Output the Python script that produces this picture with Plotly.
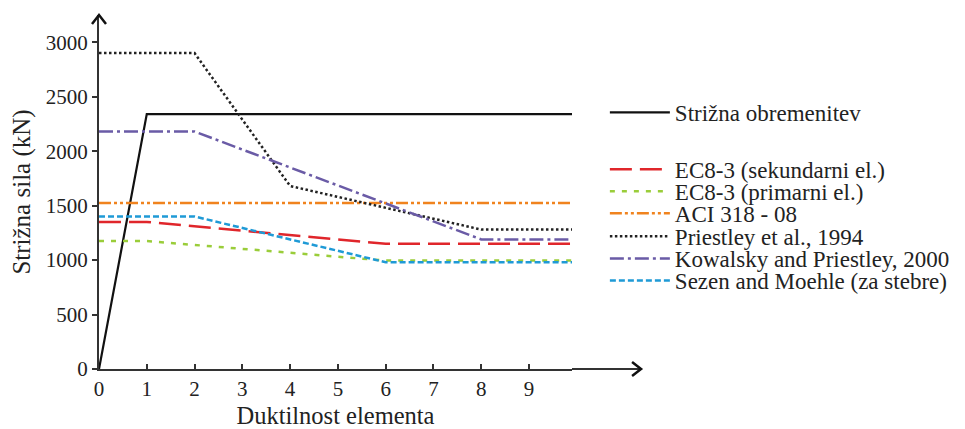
import plotly.graph_objects as go

# Data (x = ductility, y = shear force in kN)
demand_x = [0, 1, 9.9]
demand_y = [0, 2340, 2340]

ec8_sec_x = [0, 1, 6, 9.9]
ec8_sec_y = [1350, 1350, 1150, 1150]

ec8_prim_x = [0, 1, 6, 9.9]
ec8_prim_y = [1175, 1175, 995, 995]

aci_x = [0, 9.9]
aci_y = [1525, 1525]

priestley_x = [0, 2, 4, 8, 9.9]
priestley_y = [2900, 2900, 1680, 1280, 1280]

kowalsky_x = [0, 2, 8, 9.9]
kowalsky_y = [2180, 2180, 1190, 1190]

sezen_x = [0, 2, 6, 9.9]
sezen_y = [1400, 1400, 980, 980]

x_ticks = [0, 1, 2, 3, 4, 5, 6, 7, 8, 9]
y_ticks = [0, 500, 1000, 1500, 2000, 2500, 3000]

FONT = "Liberation Serif, Times New Roman, DejaVu Serif, serif"

series = [
    ("Strižna obremenitev", demand_x, demand_y, "#111111", "solid", 2.2),
    ("EC8-3 (sekundarni el.)", ec8_sec_x, ec8_sec_y, "#e0262b", "22px,8px", 2.5),
    ("EC8-3 (primarni el.)", ec8_prim_x, ec8_prim_y, "#9acd3a", "5px,7px", 2.5),
    ("ACI 318 - 08", aci_x, aci_y, "#f0831e", "12px,3px,3px,3px,3px,3px", 2.5),
    ("Priestley et al., 1994", priestley_x, priestley_y, "#222222", "2.5px,2.5px", 2.5),
    ("Kowalsky and Priestley, 2000", kowalsky_x, kowalsky_y, "#6a5ba6", "14px,4px,3px,4px", 2.5),
    ("Sezen and Moehle (za stebre)", sezen_x, sezen_y, "#1f9ad6", "6px,3px", 2.5),
]

# legend row centres (paper y) for each entry
legend_rows = [0.725, 0.564, 0.502, 0.44, 0.375, 0.312, 0.25]
LEGEND_X = 1.0695
AXIS_EXT = 1.146  # x-axis arrow tip, paper units

fig = go.Figure()
legend_layout = {}
for i, (name, xs, ys, color, dash, w) in enumerate(series):
    lname = "legend" if i == 0 else f"legend{i + 1}"
    fig.add_trace(go.Scatter(
        x=xs, y=ys, mode="lines", name=name,
        line=dict(color=color, dash=dash, width=w),
        legend=lname, cliponaxis=False,
    ))
    legend_layout[lname] = dict(
        x=LEGEND_X, xanchor="left", y=legend_rows[i], yanchor="middle",
        font=dict(family=FONT, size=23, color="#222222"),
        itemwidth=60, bgcolor="rgba(0,0,0,0)",
    )

axis_color = "#333333"
fig.update_layout(
    width=957, height=421,
    margin=dict(l=91, r=393, t=7, b=60, autoexpand=False),
    plot_bgcolor="white", paper_bgcolor="white",
    font=dict(family=FONT, size=21, color="#222222"),
    showlegend=True,
    xaxis=dict(
        range=[0, 9.9], tickmode="array", tickvals=x_ticks,
        ticktext=[str(v) for v in x_ticks],
        showgrid=False, zeroline=False, automargin=False,
        showline=True, linecolor=axis_color, linewidth=2,
        ticks="inside", ticklen=5, tickwidth=2, tickcolor=axis_color,
        tickfont=dict(family=FONT, size=21),
        title=dict(text="Duktilnost elementa", font=dict(family=FONT, size=24.5), standoff=9),
    ),
    yaxis=dict(
        range=[0, 3250], tickmode="array", tickvals=y_ticks,
        ticktext=[str(v) for v in y_ticks],
        showgrid=False, zeroline=False, automargin=False,
        showline=True, linecolor=axis_color, linewidth=2,
        ticks="outside", ticklen=5, tickwidth=2, tickcolor=axis_color,
        tickfont=dict(family=FONT, size=21),
        title=dict(text="Strižna sila (kN)", font=dict(family=FONT, size=25), standoff=19),
    ),
    shapes=[
        dict(type="line", xref="paper", yref="paper", x0=1, x1=AXIS_EXT, y0=0, y1=0,
             line=dict(color=axis_color, width=2)),
        dict(type="path", xref="paper", yref="paper", xsizemode="pixel", ysizemode="pixel",
             xanchor=AXIS_EXT, yanchor=0, path="M-9,7 L0,0 L-9,-7",
             line=dict(color="#111111", width=2.5)),
        dict(type="path", xref="paper", yref="paper", xsizemode="pixel", ysizemode="pixel",
             xanchor=0, yanchor=1, path="M-7,-9 L0,0 L7,-9",
             line=dict(color="#111111", width=2.5)),
    ],
    **legend_layout,
)

fig.write_html("out.html")
